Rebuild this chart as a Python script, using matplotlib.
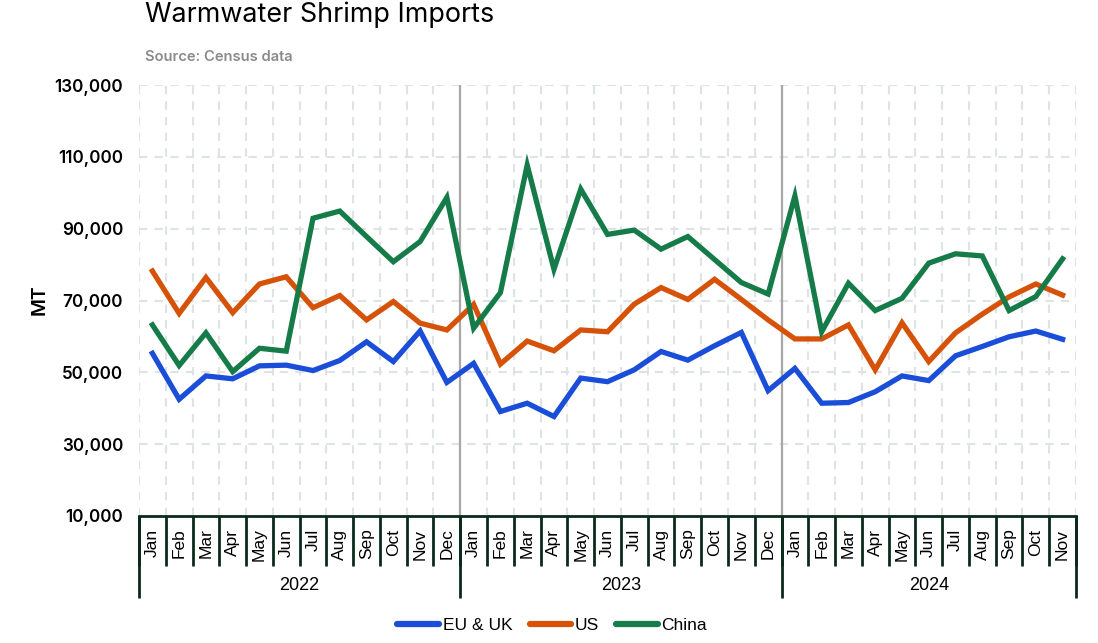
import numpy as np
import matplotlib
matplotlib.use('Agg')
import matplotlib.pyplot as plt
from matplotlib.ticker import FuncFormatter, FixedLocator

# data (MT), Jan 2022 - Nov 2024
months = ['Jan', 'Feb', 'Mar', 'Apr', 'May', 'Jun', 'Jul', 'Aug', 'Sep', 'Oct', 'Nov', 'Dec'] * 2 + \
         ['Jan', 'Feb', 'Mar', 'Apr', 'May', 'Jun', 'Jul', 'Aug', 'Sep', 'Oct', 'Nov']
years = ['2022', '2023', '2024']
year_counts = [12, 12, 11]

eu_uk = [55300, 42500, 49000, 48200, 51800, 52000, 50500, 53300, 58500, 53000, 61500, 47200,
         52500, 39100, 41400, 37700, 48400, 47400, 50700, 55800, 53400, 57400, 61100, 44900,
         51100, 41400, 41600, 44600, 49000, 47700, 54600, 57200, 59900, 61500, 59200]
us = [78200, 66400, 76400, 66600, 74600, 76600, 68000, 71400, 64600, 69700, 63700, 61800,
      68900, 52300, 58700, 56000, 61800, 61300, 69000, 73600, 70300, 75900, 70300, 64600,
      59300, 59300, 63200, 50700, 63800, 53000, 61000, 66200, 71000, 74600, 71500]
china = [63200, 51900, 61000, 50200, 56700, 55900, 92900, 94900, 87800, 80800, 86400, 98700,
         62300, 72200, 107700, 78700, 101000, 88400, 89600, 84300, 87800, 81400, 75000, 71800,
         99100, 61300, 74800, 67200, 70600, 80400, 83000, 82400, 67200, 71100, 81600]

series = [('EU & UK', eu_uk, '#1a4ed8'), ('US', us, '#d55208'), ('China', china, '#157b48')]

fig = plt.figure(figsize=(10.98, 6.43), dpi=100)
W, H = 1098, 643
ax = fig.add_axes([139 / W, 1 - 516 / H, (1076 - 139) / W, (516 - 85) / H])

x = np.arange(len(months))
for name, vals, col in series:
    ax.plot(x, vals, color=col, lw=3.8, label=name, solid_joinstyle='miter', zorder=3)

ax.set_xlim(-0.5, len(months) - 0.5)
ax.set_ylim(10000, 130000)
ax.set_yticks(range(10000, 130001, 20000))
ax.yaxis.set_major_formatter(FuncFormatter(lambda v, p: f'{int(v):,}'))
ax.tick_params(axis='y', length=0, pad=11.5, labelsize=12.3)
for t in ax.get_yticklabels():
    t.set_fontfamily('Inter')
    t.set_fontweight('semibold')

# month labels and category boundary ticks
ax.set_xticks(x)
ax.set_xticklabels(months, rotation=90, fontsize=12.5, fontfamily='Liberation Sans')
ax.tick_params(axis='x', which='major', length=0, pad=9)
bounds = np.arange(-0.5, len(months), 1.0)
ax.xaxis.set_minor_locator(FixedLocator(bounds))
ax.tick_params(axis='x', which='minor', length=36, width=2, color='#0b2a1e', direction='out')

# grid
ax.grid(axis='y', which='major', color='#e0e3e3', lw=1.5, linestyle=(0, (4, 3.5)))
ax.grid(axis='x', which='minor', color='#e0e3e3', lw=1.5, linestyle=(0, (4, 3.5)))
ax.set_axisbelow(True)

for s in ['top', 'right', 'left']:
    ax.spines[s].set_visible(False)
ax.spines['bottom'].set_color('#0b2a1e')
ax.spines['bottom'].set_linewidth(2)

# year separators and year labels
start = 0
edges = [-0.5]
for yr, n in zip(years, year_counts):
    ax.text(start + (n - 1) / 2, -0.162, yr, transform=ax.get_xaxis_transform(),
            ha='center', va='center', fontsize=13, fontfamily='Liberation Sans')
    start += n
    edges.append(start - 0.5)
for e in edges:
    ax.plot([e, e], [0, -0.19], transform=ax.get_xaxis_transform(), color='#0b2a1e',
            lw=2, clip_on=False, solid_capstyle='butt')
for e in edges[1:-1]:
    ax.axvline(e, color='#a8a8a8', lw=1.6, zorder=2)

fig.text(40 / W, 1 - 300 / H, 'MT', rotation=90, ha='center', va='center',
         fontsize=14, fontfamily='Inter', fontweight='semibold')

fig.text(145 / W, 1 - 22 / H, 'Warmwater Shrimp Imports', fontsize=19.4,
         fontfamily='Inter', va='baseline', ha='left')
fig.text(145 / W, 1 - 57 / H, 'Source: Census data', fontsize=10.6, color='#8a8a8a',
         fontfamily='Inter', fontweight='semibold', va='center', ha='left')

leg = fig.legend(loc='center', bbox_to_anchor=(0.503, 1 - 625 / H), ncol=3, frameon=False,
                 handlelength=2.4, handletextpad=0.2, columnspacing=1.0,
                 prop={'family': 'Liberation Sans', 'size': 12.5})
for h in leg.get_lines():
    h.set_linewidth(4.5)
    h.set_solid_capstyle('round')

fig.savefig('out.png', dpi=100, facecolor='white')
